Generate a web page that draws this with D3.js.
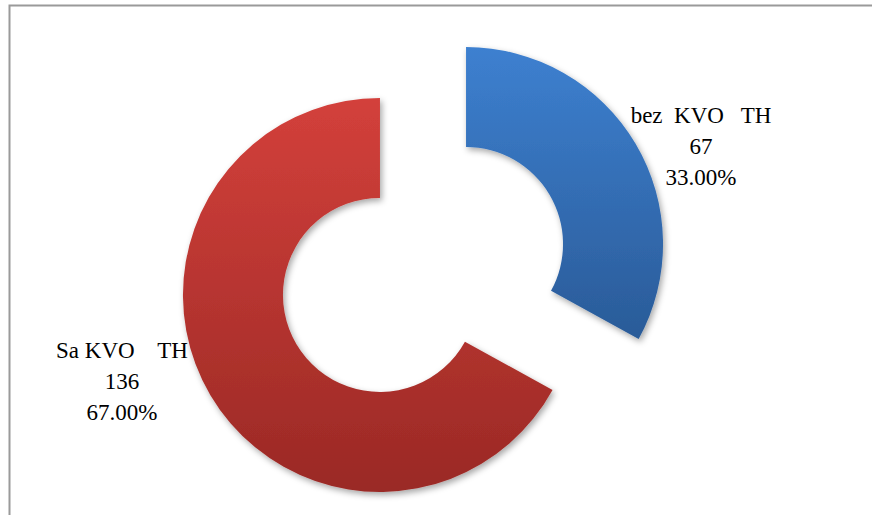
<!DOCTYPE html>
<html><head><meta charset="utf-8">
<script src="https://cdn.jsdelivr.net/npm/d3@7/dist/d3.min.js"></script>
<style>body{margin:0;background:#fff}svg{display:block}</style>
</head><body>
<svg id="c" width="872" height="515"></svg>
<script>
const categories = ["bez  KVO   TH", "Sa KVO    TH"];
const values = [67, 136];
const percents = ["33.00%", "67.00%"];
const colorsTop = ["#3d80d0", "#d3403b"];
const colorsBottom = ["#2a5b98", "#9a2925"];

const svg = d3.select("#c");
const W = 872, H = 515;
svg.append("rect").attr("x", 9.5).attr("y", 5.5).attr("width", W).attr("height", H)
  .attr("fill", "#fff").attr("stroke", "#9a9a9a").attr("stroke-width", 2);

const defs = svg.append("defs");
const f = defs.append("filter").attr("id", "sh").attr("x", "-20%").attr("y", "-20%").attr("width", "140%").attr("height", "140%");
f.append("feDropShadow").attr("dx", 2).attr("dy", 3).attr("stdDeviation", 3)
  .attr("flood-color", "#000").attr("flood-opacity", 0.35);
categories.forEach((c, i) => {
  const g = defs.append("linearGradient").attr("id", "g" + i)
    .attr("x1", 0).attr("y1", 0).attr("x2", 0).attr("y2", 1);
  g.append("stop").attr("offset", "0%").attr("stop-color", colorsTop[i]);
  g.append("stop").attr("offset", "100%").attr("stop-color", colorsBottom[i]);
});

const cx = 423, cy = 269.5, R = 197, r = 97, explode = 50;
const pie = d3.pie().sort(null).value(d => d)(values);
const arc = d3.arc().innerRadius(r).outerRadius(R);

const slices = svg.append("g").attr("transform", `translate(${cx},${cy})`);
pie.forEach((p, i) => {
  const m = (p.startAngle + p.endAngle) / 2;
  const dx = Math.sin(m) * explode, dy = -Math.cos(m) * explode;
  slices.append("path").attr("d", arc(p))
    .attr("transform", `translate(${dx},${dy})`)
    .attr("fill", `url(#g${i})`).attr("filter", "url(#sh)");
});

const labelPos = [[701, 123], [122, 358]];
const lh = 31;
pie.forEach((p, i) => {
  const t = svg.append("text").attr("text-anchor", "middle")
    .attr("font-family", "'Liberation Serif', 'Times New Roman', serif")
    .attr("font-size", 23).attr("fill", "#000")
    .style("white-space", "pre");
  const lines = [categories[i], String(values[i]), percents[i]];
  lines.forEach((s, k) => {
    t.append("tspan").attr("x", labelPos[i][0]).attr("y", labelPos[i][1] + k * lh).text(s);
  });
});
</script>
</body></html>
